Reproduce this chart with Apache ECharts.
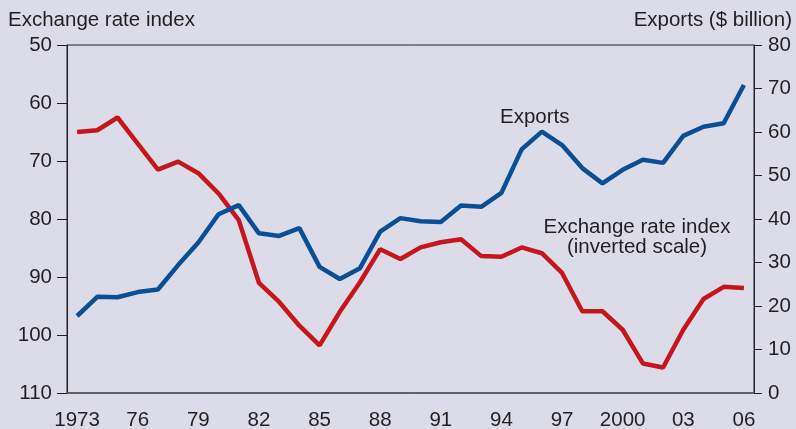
<!DOCTYPE html>
<html>
<head>
<meta charset="utf-8">
<script src="https://cdn.jsdelivr.net/npm/echarts@6/dist/echarts.min.js"></script>
<style>
  html, body { margin: 0; padding: 0; background: #dcdce9; }
  #chart { width: 796px; height: 429px; }
</style>
</head>
<body>
<div id="chart"></div>
<script>
// 年份与数据
var years = [];
for (var y = 1973; y <= 2006; y++) years.push(String(y));

var xTickLabels = ['1973', '76', '79', '82', '85', '88', '91', '94', '97', '2000', '03', '06'];

// 汇率指数（左轴，倒置）
var exchangeRate = [65.0, 64.7, 62.5, 67.0, 71.5, 70.1, 72.1, 75.6, 80.2, 91.0,
	94.3, 98.4, 101.8, 96.0, 90.9, 85.2, 86.9, 84.9, 84.0, 83.5,
	86.4, 86.5, 84.9, 85.9, 89.3, 95.9, 95.9, 99.1, 104.9, 105.6,
	99.1, 93.8, 91.7, 91.9];

// 出口（右轴，十亿美元）
var exports = [17.7, 22.1, 22.0, 23.2, 23.8, 29.4, 34.6, 41.1, 43.2, 36.7,
	36.1, 37.9, 29.0, 26.2, 28.7, 37.1, 40.2, 39.5, 39.3, 43.1,
	42.8, 46.0, 56.0, 60.1, 57.0, 51.7, 48.2, 51.3, 53.6, 52.9,
	59.1, 61.2, 62.0, 70.8];

var FONT = "'Liberation Sans', Arial, Helvetica, sans-serif";
var TEXT = '#231f20';
var FS = 20.5;

var myChart = echarts.init(document.getElementById('chart'));

var option = {
	backgroundColor: '#dcdce9',
	animation: false,
	textStyle: { fontFamily: FONT },
	grid: {
		left: 67, right: 42, top: 45, bottom: 36,
		outerBoundsMode: 'none',
		containLabel: false,
		show: true,
		borderColor: TEXT,
		borderWidth: 1,
		backgroundColor: 'transparent'
	},
	xAxis: {
		type: 'category',
		data: years,
		boundaryGap: true,
		axisLine: { lineStyle: { color: '#5a5a5a', width: 1.5 } },
		axisTick: {
			interval: 0,
			alignWithLabel: true,
			length: 7,
			lineStyle: { color: TEXT }
		},
		axisLabel: {
			interval: 2,
			margin: 17,
			color: TEXT,
			fontSize: FS,
			fontFamily: FONT,
			formatter: function(value, index) {
				return xTickLabels[index / 3];
			}
		},
		splitLine: { show: false }
	},
	yAxis: [{
			type: 'value',
			inverse: true,
			min: 50,
			max: 110,
			interval: 10,
			position: 'left',
			axisLine: { show: true, lineStyle: { color: TEXT } },
			axisTick: { show: true, length: 10, lineStyle: { color: TEXT } },
			axisLabel: { color: TEXT, fontSize: FS, margin: 15, fontFamily: FONT },
			splitLine: { show: false }
		},
		{
			type: 'value',
			min: 0,
			max: 80,
			interval: 10,
			position: 'right',
			axisLine: { show: true, lineStyle: { color: TEXT } },
			axisTick: { show: true, length: 8, lineStyle: { color: TEXT } },
			axisLabel: { color: TEXT, fontSize: FS, margin: 14, fontFamily: FONT },
			splitLine: { show: false }
		}
	],
	graphic: [{
			type: 'text', left: 8, top: 10,
			style: { text: 'Exchange rate index', fill: TEXT, font: FS + 'px ' + FONT }
		},
		{
			type: 'text', right: 4, top: 10,
			style: { text: 'Exports ($ billion)', fill: TEXT, font: FS + 'px ' + FONT }
		},
		{
			type: 'text', left: 500, top: 107,
			style: { text: 'Exports', fill: TEXT, font: FS + 'px ' + FONT }
		},
		{
			type: 'text', x: 637, y: 217,
			style: {
				text: 'Exchange rate index\n(inverted scale)',
				fill: TEXT,
				font: FS + 'px ' + FONT,
				align: 'center',
				verticalAlign: 'top',
				lineHeight: 20
			}
		}
	],
	series: [{
			name: 'Exchange rate index',
			type: 'line',
			yAxisIndex: 0,
			data: exchangeRate,
			symbol: 'none',
			lineStyle: { color: '#c4161c', width: 4.5 },
			z: 3
		},
		{
			name: 'Exports',
			type: 'line',
			yAxisIndex: 1,
			data: exports,
			symbol: 'none',
			lineStyle: { color: '#0a4f96', width: 4.5 },
			z: 4
		}
	]
};

myChart.setOption(option);
</script>
</body>
</html>
